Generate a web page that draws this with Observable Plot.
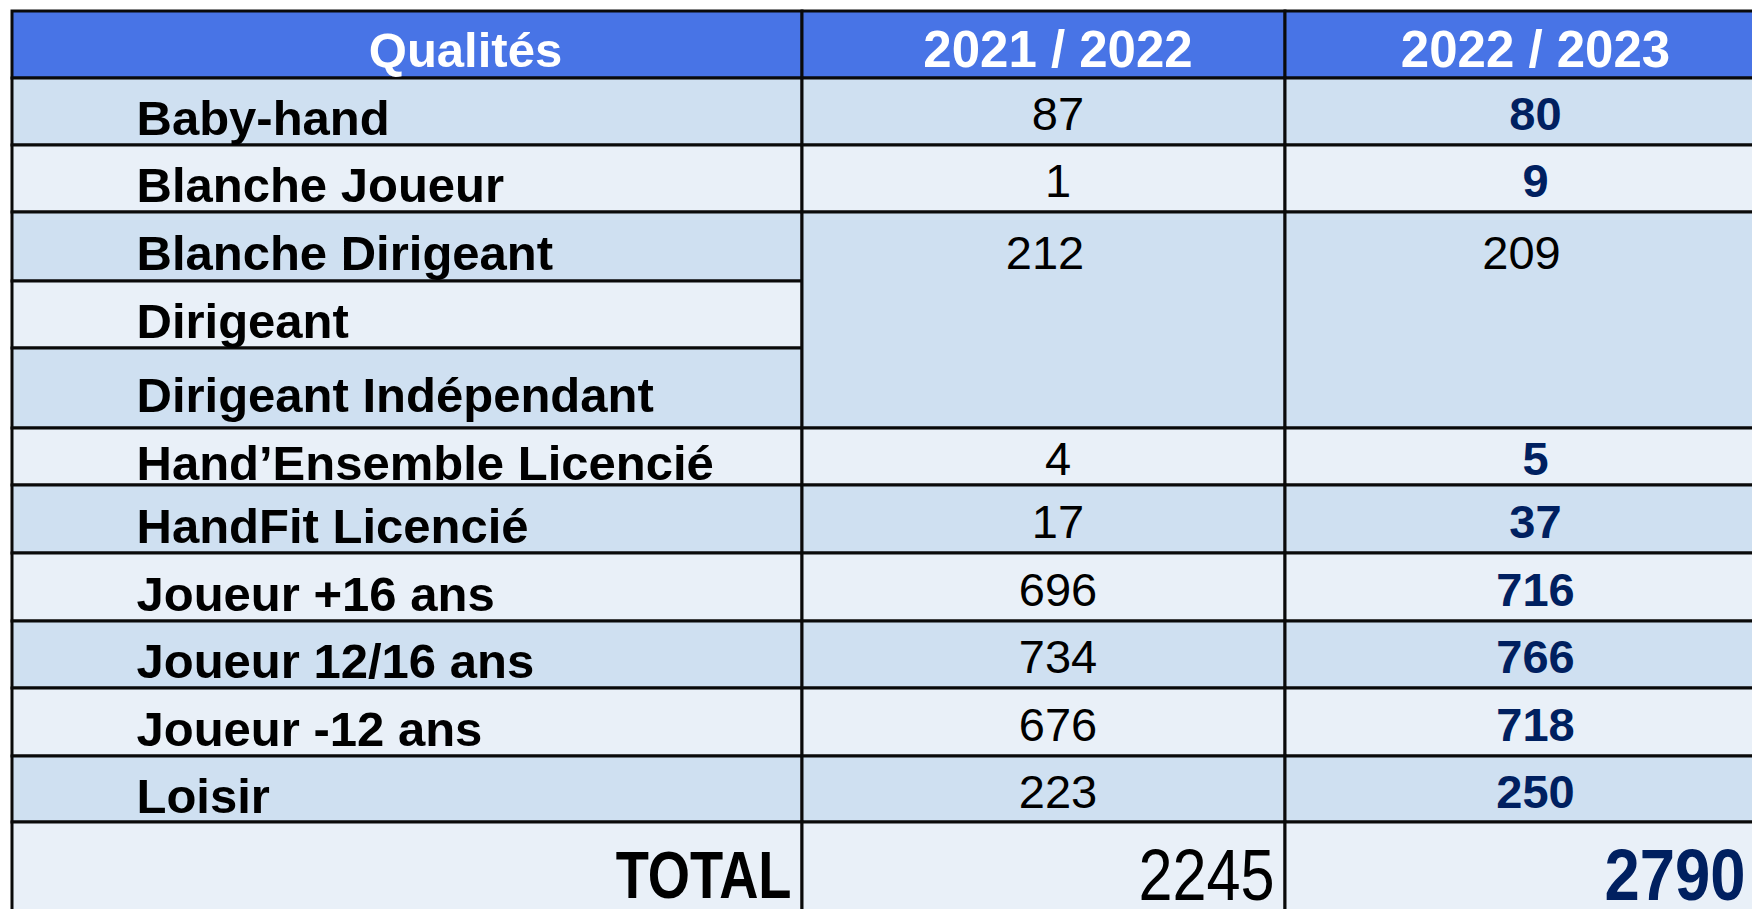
<!DOCTYPE html>
<html><head><meta charset="utf-8">
<script src="https://cdn.jsdelivr.net/npm/d3@7"></script>
<script src="https://cdn.jsdelivr.net/npm/@observablehq/plot@0.6"></script>
<style>
html,body{margin:0;padding:0;background:#fff;overflow:hidden}
#chart svg{display:block}
</style></head><body>
<div id="chart"></div>
<script>
// ---- data ----
const headers = ["Qualités", "2021 / 2022", "2022 / 2023"];
const categories = ["Baby-hand", "Blanche Joueur", "Blanche Dirigeant", "Dirigeant", "Dirigeant Indépendant",
  "Hand’Ensemble Licencié", "HandFit Licencié", "Joueur +16 ans", "Joueur 12/16 ans", "Joueur -12 ans", "Loisir"];
const season2122 = [87, 1, 212, null, null, 4, 17, 696, 734, 676, 223];
const season2223 = [80, 9, 209, null, null, 5, 37, 716, 766, 718, 250];
const rowSpan = [1, 1, 3, 0, 0, 1, 1, 1, 1, 1, 1];
const totalLabel = "TOTAL";
const totals = [2245, 2790];

// ---- layout (table grid) ----
const colEdges = [12, 802, 1285, 1757];
const rowEdges = [11, 78, 145, 212, 281, 348, 428, 485, 553, 621, 688, 756, 822, 912];
const DARK = "#CFE0F1", LIGHT = "#E9F0F8", HEAD = "#4874E6", NAVY = "#002060";
const LABEL_FONT = "'Liberation Sans', Arial, sans-serif";

const rows = categories.map((name, i) => ({name, i, a: season2122[i], b: season2223[i], span: rowSpan[i]}));
const bg = i => (i % 2 === 0 ? DARK : LIGHT);

const cells = [
  ...headers.map((h, c) => ({x1: c, x2: c + 1, y1: 0, y2: 1, fill: HEAD})),
  ...rows.map(r => ({x1: 0, x2: 1, y1: r.i + 1, y2: r.i + 2, fill: bg(r.i)})),
  ...rows.filter(r => r.span > 0).flatMap(r => [1, 2].map(c => ({x1: c, x2: c + 1, y1: r.i + 1, y2: r.i + 1 + r.span, fill: bg(r.i)}))),
  ...[0, 1, 2].map(c => ({x1: c, x2: c + 1, y1: 12, y2: 13, fill: bg(11)}))
];

const single = rows.filter(r => r.span === 1);
const merged = rows.filter(r => r.span > 1);

const chart = Plot.plot({
  width: 1752,
  height: 909,
  margin: 0,
  style: {background: "#fff"},
  x: {type: "linear", domain: colEdges.map((_, k) => k), range: colEdges, axis: null},
  y: {type: "linear", domain: rowEdges.map((_, k) => k), range: rowEdges, axis: null},
  color: {type: "identity"},
  marks: [
    Plot.rect(cells, {x1: "x1", x2: "x2", y1: "y1", y2: "y2", fill: "fill", stroke: "#0a0a0a", strokeWidth: 3}),
    // header
    Plot.text([headers[0]], {x: 0.5, y: 0.5, text: d => d, fill: "#fff", fontWeight: "bold", fontSize: 49, fontFamily: LABEL_FONT, lineAnchor: "bottom", dx: 58, dy: 22}),
    Plot.text(headers.slice(1), {x: (d, k) => k + 1.5, y: 0.5, text: d => d, fill: "#fff", fontWeight: "bold", fontSize: 51, fontFamily: LABEL_FONT, lineAnchor: "bottom", dx: 14, dy: 22}),
    // row labels
    Plot.text(rows, {x: 0, y: r => r.i + 1.5, text: "name", textAnchor: "start", fill: "#000", fontWeight: "bold", fontSize: 49, fontFamily: LABEL_FONT, lineAnchor: "bottom", dx: 124, dy: 23}),
    // 2021/2022 values
    Plot.text(single, {x: 1.5, y: r => r.i + 1.5, text: r => String(r.a), fill: "#000", fontSize: 47, fontFamily: LABEL_FONT, lineAnchor: "bottom", dx: 14, dy: 18}),
    Plot.text(merged, {x: 1.5, y: r => r.i + 1.5, text: r => String(r.a), fill: "#000", fontSize: 47, fontFamily: LABEL_FONT, lineAnchor: "bottom", dx: 1, dy: 22}),
    // 2022/2023 values
    Plot.text(single, {x: 2.5, y: r => r.i + 1.5, text: r => String(r.b), fill: NAVY, fontWeight: "bold", fontSize: 47, fontFamily: LABEL_FONT, lineAnchor: "bottom", dx: 14, dy: 18}),
    Plot.text(merged, {x: 2.5, y: r => r.i + 1.5, text: r => String(r.b), fill: "#000", fontSize: 47, fontFamily: LABEL_FONT, lineAnchor: "bottom", dx: 0, dy: 22}),
    // total row
    Plot.text([totalLabel], {x: 1, y: 12, text: d => d, textAnchor: "end", fill: "#000", fontWeight: "bold", fontSize: 67, fontFamily: LABEL_FONT, lineAnchor: "bottom", dx: -11, dy: 75}),
    Plot.text([totals[0]], {x: 2, y: 12, text: d => String(d), textAnchor: "end", fill: "#000", fontSize: 72, fontFamily: LABEL_FONT, lineAnchor: "bottom", dx: -11, dy: 77}),
    Plot.text([totals[1]], {x: 3, y: 12, text: d => String(d), textAnchor: "end", fill: NAVY, fontWeight: "bold", fontSize: 72, fontFamily: LABEL_FONT, lineAnchor: "bottom", dx: -12, dy: 77})
  ]
});
document.getElementById("chart").appendChild(chart);

// condense the TOTAL row glyphs horizontally (the reference uses a narrow face there)
const squeeze = new Map([[totalLabel, 0.81], [String(totals[0]), 0.85], [String(totals[1]), 0.88]]);
d3.select(chart).selectAll("text").each(function () {
  const s = squeeze.get(this.textContent);
  if (s == null) return;
  const t = this.getAttribute("transform") || "";
  const x = this.getAttribute("x") || 0;
  // scale about the anchor point so the right edge stays on the cell border
  this.setAttribute("transform", `${t} translate(${x},0) scale(${s},1) translate(${-x},0)`);
});
</script>
</body></html>
